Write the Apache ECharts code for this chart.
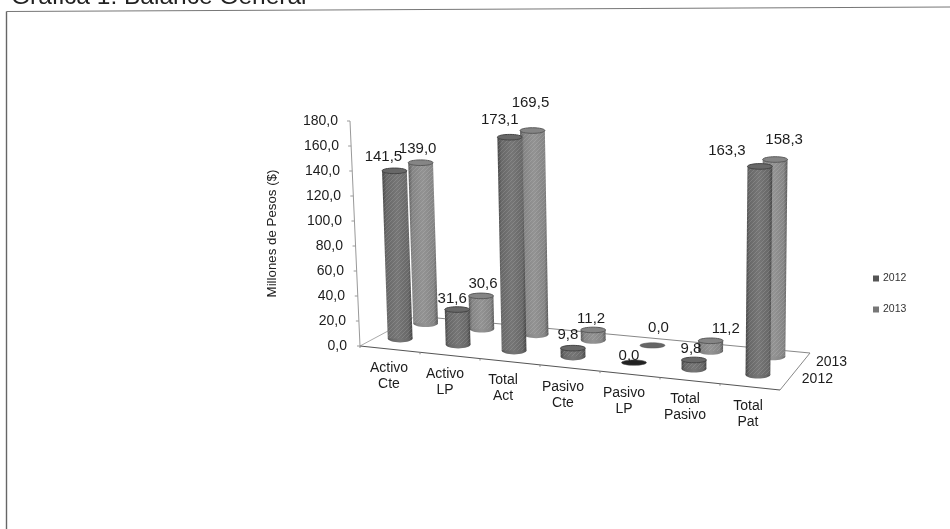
<!DOCTYPE html>
<html><head><meta charset="utf-8">
<style>html,body{margin:0;padding:0;background:#fff}#c{width:950px;height:529px}</style>
<script src="https://cdn.jsdelivr.net/npm/echarts@6/dist/echarts.min.js"></script>
</head><body><div id="c"></div>
<script>
const categories = ['Activo\nCte','Activo\nLP','Total\nAct','Pasivo\nCte','Pasivo\nLP','Total\nPasivo','Total\nPat'];
const years = ['2012','2013'];
const values2012 = [141.5,31.6,173.1,9.8,0.0,9.8,163.3];
const values2013 = [139.0,30.6,169.5,11.2,0.0,11.2,158.3];
const yTicks = [0,20,40,60,80,100,120,140,160,180];

// layout only: 3D-looking projection of the floor, relative to the grid rectangle
const FONT = '"Liberation Sans", Arial, sans-serif';
const rowDepth = [0.28, 0.75];
const rowLift = [2, 3];
const bandShift = [-5,-6,-9,-9,-7,-6,-1];
const labelNudge2012 = [[-11,-14],[-5,-11],[-10,-17],[-5,-13],[-5,-7],[-3,-11],[-33,-16]];
const labelNudge2013 = [[-3,-14],[2,-12],[-2,-28],[-2,-11],[6,-18],[15,-12],[9,-20]];
const catLabelPadRight = [2,10,14,14,12,10,4];
const fmt = v => v.toFixed(1).replace('.',',');

function hatch(){
  const c=document.createElement('canvas'); c.width=4; c.height=4;
  const g=c.getContext('2d');
  g.strokeStyle='rgba(255,255,255,0.13)'; g.lineWidth=1;
  g.beginPath(); g.moveTo(0,4); g.lineTo(4,0); g.moveTo(-1,1); g.lineTo(1,-1); g.moveTo(3,5); g.lineTo(5,3); g.stroke();
  return c;
}
const hatchImg=hatch();

function floorPoint(cs,u,t){
  const ax=cs.x, ay=cs.y+cs.height;
  const fx=ax+u*cs.width, fy=ay+u*44;
  const bx=ax+56+u*(cs.width-26), by=ay-30+u*37;
  return [fx+(bx-fx)*t, fy+(by-fy)*t];
}

function cylinderRenderer(row, colors, nudge){
  return function(params, api){
    const cs=params.coordSys;
    const i=api.value(0), v=api.value(1);
    const top=api.coord([i,v]), zero=api.coord([i,0]);
    const u=(top[0]-cs.x)/cs.width, t=rowDepth[row];
    const scale=(1.18+0.10*u-0.03*(t-0.28)/0.47+0.02*Math.sin(Math.PI*u))/(cs.height/180);
    const p=floorPoint(cs,u,t);
    const base=[p[0]+bandShift[i],p[1]-rowLift[row]];
    const h=v===0?0:(zero[1]-top[1])*scale-4*(1-v/180);
    const tx=base[0]+(base[0]-680)*0.000122*h, ty=base[1]-h;
    const rx=12.4, ryB=3.8, ryT=2.8;
    const grad={type:'linear',x:0,y:0,x2:1,y2:0,colorStops:[
      {offset:0,color:colors[0]},{offset:0.14,color:colors[1]},{offset:0.5,color:colors[2]},{offset:0.86,color:colors[1]},{offset:1,color:colors[0]}]};
    const children=[];
    if(v===0){
      children.push({type:'ellipse',shape:{cx:base[0],cy:base[1],rx:rx,ry:2.6},style:{fill:colors[3],stroke:colors[0],lineWidth:0.6}});
    } else {
      const pts=[[base[0]-rx,base[1]],[base[0]+rx,base[1]],[tx+rx,ty],[tx-rx,ty]];
      children.push({type:'ellipse',shape:{cx:base[0],cy:base[1],rx:rx,ry:ryB},style:{fill:grad}});
      children.push({type:'polygon',shape:{points:pts},style:{fill:grad}});
      children.push({type:'polygon',shape:{points:pts},style:{fill:{image:hatchImg,repeat:'repeat'}}});
      children.push({type:'ellipse',shape:{cx:tx,cy:ty,rx:rx,ry:ryT},style:{fill:colors[1],stroke:colors[0],lineWidth:1}});
    }
    children.push({type:'text',z2:50,style:{text:fmt(v),x:tx+nudge[i][0],y:ty+nudge[i][1],align:'center',verticalAlign:'middle',fill:'#1c1c1c',font:'15px '+FONT}});
    return {type:'group',children:children};
  };
}

function frameRenderer(params, api){
  const cs=params.coordSys;
  const A=floorPoint(cs,0,0),B=floorPoint(cs,1,0),C=floorPoint(cs,1,1),D=floorPoint(cs,0,1);
  const line=(p,q,c,w)=>({type:'line',shape:{x1:p[0],y1:p[1],x2:q[0],y2:q[1]},style:{stroke:c,lineWidth:w}});
  const kids=[line(A,D,'#aaa',1),line(D,C,'#888',1),line(C,B,'#888',1),line(A,B,'#555',1.2)];
  const axisTop=[A[0]-10,cs.y];
  kids.push(line(A,axisTop,'#999',1));
  yTicks.forEach(v=>{
    const y=api.coord([0,v])[1], x=A[0]-10*v/180;
    kids.push(line([x-3,y],[x,y],'#999',1));
  });
  categories.forEach((c,i)=>{ const p=floorPoint(cs,i/7,0); kids.push(line(p,[p[0],p[1]+2],'#888',1)); });
  years.forEach((y,r)=>{
    const p=floorPoint(cs,1,rowDepth[r]);
    kids.push({type:'text',style:{text:y,x:p[0]+29,y:p[1],align:'center',verticalAlign:'middle',fill:'#1c1c1c',font:'14px '+FONT}});
  });
  return {type:'group',children:kids};
}

const yRich={}, xRich={};
yTicks.forEach(v=>{ yRich['t'+v]={fontSize:14,fontFamily:FONT,color:'#1c1c1c',padding:[0,v/180*9,0,0]}; });
categories.forEach((c,i)=>{
  xRich['s'+i]={fontSize:1,lineHeight:1+6.3*i};
  xRich['a'+i]={fontSize:14,fontFamily:FONT,color:'#1c1c1c',lineHeight:16,padding:[0,catLabelPadRight[i],0,0]};
});

const chart=echarts.init(document.getElementById('c'),null,{renderer:'canvas'});
chart.setOption({
  animation:false,
  backgroundColor:'#fff',
  title:{text:'Gráfica 1: Balance General',left:6,top:-20,textStyle:{fontFamily:FONT,fontWeight:'normal',fontSize:24.5,color:'#222'}},
  legend:{data:years,orient:'vertical',left:868,top:268,itemWidth:6,itemHeight:6,itemGap:20,icon:'rect',
    textStyle:{fontFamily:FONT,fontSize:10.5,color:'#333',padding:[0,0,0,-1]},selectedMode:false},
  grid:{left:360,top:121,width:420,height:225},
  xAxis:{type:'category',data:categories,axisLine:{show:false},axisTick:{show:false},splitLine:{show:false},
    axisLabel:{interval:0,margin:13,hideOverlap:false,rich:xRich,
      formatter:(val,idx)=>{const p=val.split('\n');return '{s'+idx+'| }\n{a'+idx+'|'+p[0]+'}\n{a'+idx+'|'+p[1]+'}';}}},
  yAxis:{type:'value',min:0,max:180,interval:20,name:'Millones de Pesos ($)',nameLocation:'middle',nameGap:81,nameRotate:90,
    nameTextStyle:{fontFamily:FONT,fontSize:13.3,color:'#222'},
    axisLine:{show:false},axisTick:{show:false},splitLine:{show:false},
    axisLabel:{margin:13,rich:yRich,formatter:v=>'{t'+v+'|'+fmt(v)+'}'}},
  graphic:[
    {type:'line',shape:{x1:6.5,y1:11.5,x2:950,y2:7},style:{stroke:'#777',lineWidth:1.2},silent:true},
    {type:'line',shape:{x1:6.5,y1:11.5,x2:6.5,y2:529},style:{stroke:'#666',lineWidth:1.4},silent:true}
  ],
  series:[
    {type:'custom',name:'frame',data:[[0,0]],renderItem:frameRenderer,silent:true,clip:false,z:1,encode:{x:0,y:1}},
    {type:'custom',name:'2013',data:values2013.map((v,i)=>[i,v]),encode:{x:0,y:1},z:2,clip:false,
      itemStyle:{color:'#777'},renderItem:cylinderRenderer(1,['#5a5a5a','#858585','#939393','#666'],labelNudge2013)},
    {type:'custom',name:'2012',data:values2012.map((v,i)=>[i,v]),encode:{x:0,y:1},z:3,clip:false,
      itemStyle:{color:'#555'},renderItem:cylinderRenderer(0,['#454545','#686868','#767676','#222'],labelNudge2012)}
  ]
});
</script></body></html>
